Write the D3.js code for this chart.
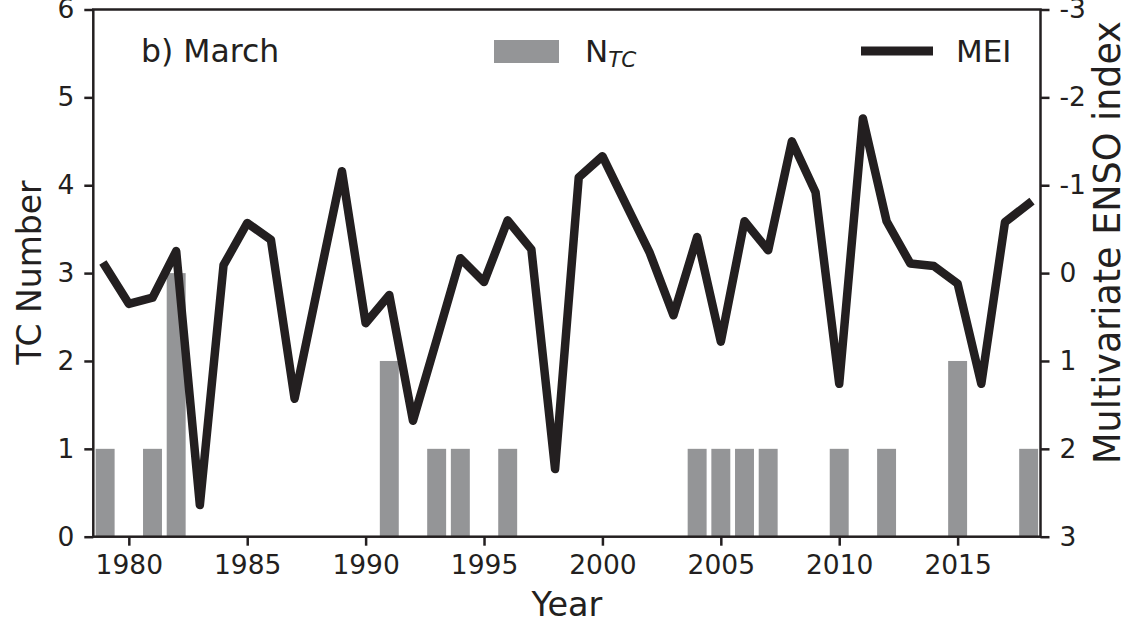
<!DOCTYPE html>
<html>
<head>
<meta charset="utf-8">
<script src="https://cdn.jsdelivr.net/npm/d3@7"></script>
<style>
  html, body { margin: 0; padding: 0; background: #fff; }
  svg { display: block; font-family: "DejaVu Sans", sans-serif; }
</style>
</head>
<body>
<svg id="chart" width="1121" height="620"></svg>
<script>
// March tropical cyclone counts and the Multivariate ENSO index, 1979-2018
const years = [1979, 1980, 1981, 1982, 1983, 1984, 1985, 1986, 1987, 1988,
               1989, 1990, 1991, 1992, 1993, 1994, 1995, 1996, 1997, 1998,
               1999, 2000, 2001, 2002, 2003, 2004, 2005, 2006, 2007, 2008,
               2009, 2010, 2011, 2012, 2013, 2014, 2015, 2016, 2017, 2018];
const tcCount = [1, 0, 1, 3, 0, 0, 0, 0, 0, 0,
                 0, 0, 2, 0, 1, 1, 0, 1, 0, 0,
                 0, 0, 0, 0, 0, 1, 1, 1, 1, 0,
                 0, 1, 0, 1, 0, 0, 2, 0, 0, 1];
const mei = [-0.08, 0.35, 0.28, -0.25, 2.64, -0.09, -0.57, -0.38, 1.43, 0.13,
             -1.16, 0.57, 0.25, 1.68, 0.76, -0.17, 0.10, -0.60, -0.27, 2.23,
             -1.09, -1.33, -0.78, -0.23, 0.48, -0.41, 0.78, -0.59, -0.26, -1.50,
             -0.92, 1.26, -1.76, -0.59, -0.11, -0.08, 0.12, 1.26, -0.58, -0.79];
const xTicks = [1980, 1985, 1990, 1995, 2000, 2005, 2010, 2015];
const leftTicks = [0, 1, 2, 3, 4, 5, 6];
const rightTicks = [-3, -2, -1, 0, 1, 2, 3];

const ink = "#231f20";
const barGray = "#949597";

const svg = d3.select("#chart");
const plot = { left: 93.3, right: 1040.5, top: 9.5, bottom: 536.7 };

const x = d3.scaleLinear().domain([1978.5, 2018.5]).range([plot.left, plot.right]);
const yTC = d3.scaleLinear().domain([0, 6]).range([plot.bottom, plot.top]);
const yMEI = d3.scaleLinear().domain([-3, 3]).range([plot.top, plot.bottom]);

const barWidth = 0.8;

// bars: TC numbers
svg.append("g")
  .selectAll("rect")
  .data(years.map((yr, i) => ({ yr, n: tcCount[i] })).filter(d => d.n > 0))
  .join("rect")
  .attr("x", d => x(d.yr - barWidth / 2))
  .attr("width", d => x(d.yr + barWidth / 2) - x(d.yr - barWidth / 2))
  .attr("y", d => yTC(d.n))
  .attr("height", d => yTC(0) - yTC(d.n))
  .attr("fill", barGray);

// MEI line on the inverted right axis
const line = d3.line()
  .x((d, i) => x(years[i]))
  .y(d => yMEI(d));

svg.append("path")
  .datum(mei)
  .attr("d", line)
  .attr("fill", "none")
  .attr("stroke", ink)
  .attr("stroke-width", 8.5)
  .attr("stroke-linejoin", "round")
  .attr("stroke-linecap", "square");

// axes
const tickFont = 26.5;
function styleAxis(g) {
  g.selectAll(".domain").remove();
  g.selectAll(".tick line").attr("stroke", ink).attr("stroke-width", 2.5);
  g.selectAll(".tick text")
    .attr("fill", ink)
    .attr("font-size", tickFont)
    .attr("font-family", "DejaVu Sans");
}

svg.append("g")
  .attr("transform", `translate(0,${plot.bottom})`)
  .call(d3.axisBottom(x).tickValues(xTicks).tickFormat(d3.format("d")).tickSize(9).tickPadding(9))
  .call(styleAxis);

svg.append("g")
  .attr("transform", `translate(${plot.left},0)`)
  .call(d3.axisLeft(yTC).tickValues(leftTicks).tickFormat(d3.format("d")).tickSize(9).tickPadding(10))
  .call(styleAxis);

svg.append("g")
  .attr("transform", `translate(${plot.right},0)`)
  .call(d3.axisRight(yMEI).tickValues(rightTicks).tickFormat(d => String(d)).tickSize(9).tickPadding(10))
  .call(styleAxis);

// frame
svg.append("rect")
  .attr("x", plot.left)
  .attr("y", plot.top)
  .attr("width", plot.right - plot.left)
  .attr("height", plot.bottom - plot.top)
  .attr("fill", "none")
  .attr("stroke", ink)
  .attr("stroke-width", 2.5);

// axis titles
svg.append("text")
  .attr("x", (plot.left + plot.right) / 2)
  .attr("y", 616)
  .attr("text-anchor", "middle")
  .attr("font-size", 33.5)
  .attr("fill", ink)
  .text("Year");

svg.append("text")
  .attr("transform", "translate(41,272.5) rotate(-90)")
  .attr("text-anchor", "middle")
  .attr("font-size", 33)
  .attr("fill", ink)
  .text("TC Number");

svg.append("text")
  .attr("transform", "translate(1120,242.5) rotate(-90)")
  .attr("text-anchor", "middle")
  .attr("font-size", 36.5)
  .attr("fill", ink)
  .text("Multivariate ENSO index");

// panel title
svg.append("text")
  .attr("x", 141)
  .attr("y", 62)
  .attr("font-size", 31.5)
  .attr("fill", ink)
  .text("b) March");

// legend: bars
svg.append("rect")
  .attr("x", 494).attr("y", 40)
  .attr("width", 65).attr("height", 23)
  .attr("fill", barGray);

const nLabel = svg.append("text")
  .attr("x", 585)
  .attr("y", 62)
  .attr("font-size", 31)
  .attr("fill", ink);
nLabel.append("tspan").text("N");
nLabel.append("tspan")
  .attr("font-size", 21.5)
  .attr("font-style", "italic")
  .attr("dy", 5)
  .text("TC");

// legend: line
svg.append("line")
  .attr("x1", 861).attr("x2", 933)
  .attr("y1", 51).attr("y2", 51)
  .attr("stroke", ink)
  .attr("stroke-width", 9);

svg.append("text")
  .attr("x", 956)
  .attr("y", 62)
  .attr("font-size", 31)
  .attr("fill", ink)
  .text("MEI");
</script>
</body>
</html>
